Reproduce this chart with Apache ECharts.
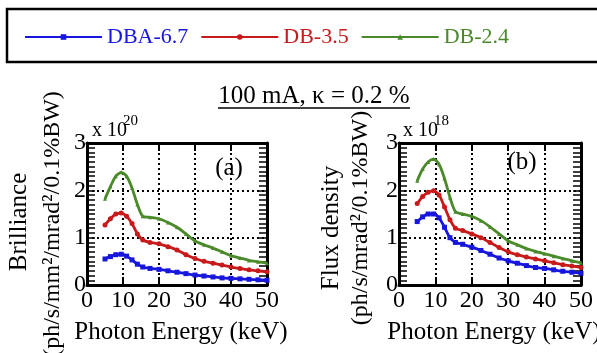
<!DOCTYPE html>
<html>
<head>
<meta charset="utf-8">
<script src="https://cdn.jsdelivr.net/npm/echarts@6/dist/echarts.min.js"></script>
<style>
  html, body { margin: 0; padding: 0; background: #fff; }
  #app { width: 597px; height: 353px; }
</style>
</head>
<body>
<div id="app"></div>
<script>
// photon energy (keV), shared by all curves
const energy = [5, 6.5, 8, 9.5, 11, 12.5, 14, 15.5, 17.5, 20, 22.5, 25, 27.5, 30, 32.5, 35, 37.5, 40, 42.5, 45, 47.5, 50];

// (a) brilliance, units of 1e20
const brilDBA67 = [0.55, 0.60, 0.64, 0.65, 0.61, 0.53, 0.44, 0.38, 0.35, 0.33, 0.30, 0.27, 0.24, 0.21, 0.19, 0.17, 0.15, 0.14, 0.13, 0.12, 0.11, 0.10];
const brilDB35 = [1.27, 1.40, 1.50, 1.52, 1.45, 1.30, 1.08, 0.95, 0.90, 0.87, 0.81, 0.74, 0.64, 0.56, 0.50, 0.46, 0.42, 0.38, 0.35, 0.32, 0.30, 0.28];
const brilDB24 = [1.82, 2.08, 2.30, 2.38, 2.30, 2.05, 1.70, 1.45, 1.43, 1.40, 1.32, 1.22, 1.08, 0.93, 0.85, 0.78, 0.70, 0.62, 0.57, 0.52, 0.49, 0.46];

// (b) flux density, units of 1e18
const fluxDBA67 = [1.34, 1.44, 1.50, 1.50, 1.42, 1.22, 1.00, 0.90, 0.86, 0.80, 0.73, 0.65, 0.57, 0.51, 0.46, 0.41, 0.37, 0.35, 0.32, 0.29, 0.27, 0.25];
const fluxDB35 = [1.72, 1.87, 1.96, 1.99, 1.90, 1.65, 1.38, 1.20, 1.15, 1.08, 1.00, 0.90, 0.79, 0.70, 0.64, 0.59, 0.55, 0.51, 0.47, 0.43, 0.40, 0.37];
const fluxDB24 = [2.20, 2.45, 2.60, 2.66, 2.55, 2.25, 1.85, 1.55, 1.50, 1.45, 1.36, 1.23, 1.08, 0.93, 0.85, 0.77, 0.71, 0.66, 0.61, 0.56, 0.51, 0.47];

const seriesNames = ["DBA-6.7", "DB-3.5", "DB-2.4"];
const seriesColors = ["#1616dc", "#c81a1a", "#4a8a2a"];
const seriesSymbols = ["rect", "circle", "triangle"];
const symbolSizes = [5, 5, 4];

const FONT = "Liberation Serif";
const FS = 25;

const chart = echarts.init(document.getElementById("app"));

const pairs = (ys) => energy.map((x, i) => [x, ys[i]]);

const dotted = { color: "#000", width: 2, type: [2, 3] };

const makeX = (gridIndex, position) => ({
  gridIndex,
  type: "value",
  position,
  min: 0,
  max: 50,
  interval: 10,
  axisLine: { show: true, onZero: false, lineStyle: { color: "#000", width: 3 } },
  axisTick: { show: true, inside: true, length: 8, lineStyle: { color: "#000", width: 2 } },
  axisLabel: {
    show: position === "bottom",
    color: "#000",
    fontFamily: FONT,
    fontSize: 24,
    margin: 4,
  },
  splitLine: {
    show: position === "bottom",
    showMinLine: false,
    showMaxLine: false,
    lineStyle: dotted,
  },
});

const makeY = (gridIndex, position) => ({
  gridIndex,
  type: "value",
  position,
  min: 0,
  max: 3,
  interval: 1,
  axisLine: { show: true, onZero: false, lineStyle: { color: "#000", width: 3 } },
  axisTick: { show: true, inside: true, length: 8, lineStyle: { color: "#000", width: 1.5 } },
  minorTick: { show: true, splitNumber: 10, length: 8, lineStyle: { color: "#000", width: 1.5 } },
  axisLabel: {
    show: position === "left",
    color: "#000",
    fontFamily: FONT,
    fontSize: 24,
    margin: 1,
    padding: [0, 0, 10, 0],
  },
  splitLine: {
    show: position === "left",
    showMinLine: false,
    showMaxLine: false,
    lineStyle: dotted,
  },
});

const panelData = [
  [brilDBA67, brilDB35, brilDB24],
  [fluxDBA67, fluxDB35, fluxDB24],
];

const series = [];
panelData.forEach((sets, g) => {
  sets.forEach((ys, k) => {
    series.push({
      name: seriesNames[k],
      type: "line",
      xAxisIndex: g * 2,
      yAxisIndex: g * 2,
      data: pairs(ys),
      smooth: 0.25,
      symbol: seriesSymbols[k],
      symbolSize: symbolSizes[k],
      showSymbol: true,
      color: seriesColors[k],
      lineStyle: { width: 2.8, color: seriesColors[k] },
      itemStyle: { color: seriesColors[k] },
      z: 3 + k,
    });
  });
});

const txt = (text, x, y, size, extra) => ({
  type: "text",
  x,
  y,
  style: Object.assign(
    {
      text,
      fill: "#000",
      fontFamily: FONT,
      fontSize: size,
      align: "center",
      verticalAlign: "middle",
      textAlign: "center",
      textVerticalAlign: "middle",
    },
    extra || {}
  ),
});

const vtxt = (text, x, y, size) =>
  Object.assign(txt(text, x, y, size), { rotation: Math.PI / 2 });

const leftAl = { align: "left", textAlign: "left" };

chart.setOption({
  animation: false,
  backgroundColor: "#fff",
  legend: {
    left: 24,
    top: 26,
    padding: 0,
    itemWidth: 77,
    itemHeight: 7,
    itemGap: 12,
    textStyle: { fontFamily: FONT, fontSize: 22 },
    data: seriesNames.map((n, i) => ({ name: n, textStyle: { color: seriesColors[i] } })),
  },
  grid: [
    { left: 87, right: 330, top: 143, bottom: 68 },
    { left: 399, right: 16, top: 143, bottom: 68 },
  ],
  xAxis: [makeX(0, "bottom"), makeX(0, "top"), makeX(1, "bottom"), makeX(1, "top")],
  yAxis: [makeY(0, "left"), makeY(0, "right"), makeY(1, "left"), makeY(1, "right")],
  series,
  graphic: [
    {
      type: "rect",
      shape: { x: 7, y: 9, width: 610, height: 53 },
      style: { fill: "none", stroke: "#000", lineWidth: 2.5 },
    },
    txt("100 mA, \u03ba = 0.2 %", 314, 96, FS),
    {
      type: "line",
      shape: { x1: 218, y1: 108, x2: 410, y2: 108 },
      style: { stroke: "#000", lineWidth: 1.5 },
    },
    txt("x 10", 92, 131, 20, leftAl),
    txt("20", 123, 121, 15, leftAl),
    txt("x 10", 403, 131, 20, leftAl),
    txt("18", 434, 121, 15, leftAl),
    txt("(a)", 229, 168, FS),
    txt("(b)", 522, 162, FS),
    txt("Photon Energy (keV)", 181, 332, FS),
    txt("Photon Energy (keV)", 494, 332, FS),
    vtxt("Brilliance", 19, 222, FS),
    vtxt("(ph/s/mm\u00b2/mrad\u00b2/0.1%BW)", 53, 224, 24),
    vtxt("Flux density", 331, 228, FS),
    vtxt("(ph/s/mrad\u00b2/0.1%BW)", 361, 218, 24),
  ],
});
</script>
</body>
</html>
